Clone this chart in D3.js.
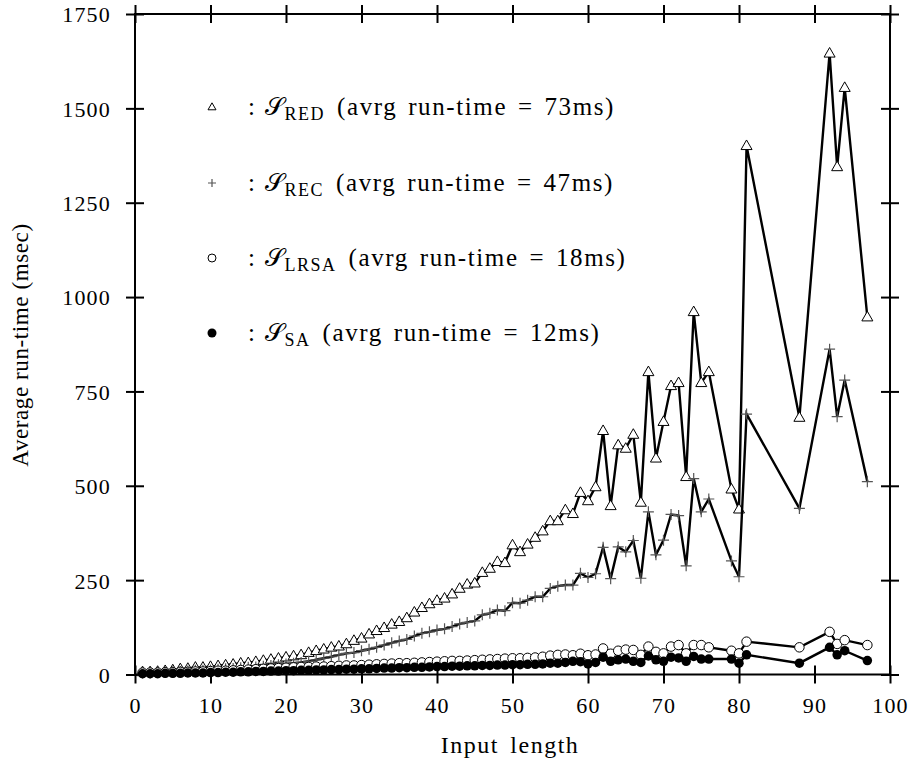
<!DOCTYPE html>
<html><head><meta charset="utf-8">
<script src="https://cdn.jsdelivr.net/npm/d3@7"></script>
<style>body{margin:0;background:#fff}svg{display:block}text{font-family:"Liberation Serif",serif;fill:#000}</style>
</head><body>
<script>
const inputLength = [1,2,3,4,5,6,7,8,9,10,11,12,13,14,15,16,17,18,19,20,21,22,23,24,25,26,27,28,29,30,31,32,33,34,35,36,37,38,39,40,41,42,43,44,45,46,47,48,49,50,51,52,53,54,55,56,57,58,59,60,61,62,63,64,65,66,67,68,69,70,71,72,73,74,75,76,79,80,81,88,92,93,94,97];
const sRED = [7,7,8,10,12,15,16,19,19,21,23,25,27,30,31,34,37,40,43,46,49,52,58,63,67,72,75,81,90,96,107,116,124,133,140,150,165,177,187,196,202,213,228,239,242,270,281,299,296,343,325,345,363,380,407,407,436,426,482,460,497,646,447,608,599,636,456,802,573,670,765,773,524,961,773,802,491,438,1401,681,1646,1345,1555,947];
const sREC = [4,4,5,6,7,8,9,11,11,12,14,15,16,18,19,20,22,24,26,28,30,32,35,39,43,47,52,56,58,63,67,72,78,84,89,93,102,109,113,118,121,127,134,138,142,158,162,171,169,190,189,197,206,206,228,234,237,237,268,257,267,337,254,338,325,355,255,431,317,356,424,421,288,519,431,465,301,259,690,440,862,683,780,511];
const sLRSA = [5,5,5,6,6,7,7,8,8,9,10,10,11,12,13,14,15,16,17,18,19,20,20,21,21,22,23,24,24,25,26,27,28,29,30,30,31,32,33,34,35,36,36,37,38,39,40,41,42,43,43,44,45,47,50,52,53,51,55,51,53,69,55,63,66,65,52,74,60,56,74,78,56,78,78,72,63,56,87,72,113,81,91,78];
const sSA = [2,2,2,3,3,3,4,4,4,5,5,6,6,7,7,8,8,9,9,10,10,11,11,12,12,13,13,14,14,15,15,16,17,17,18,18,19,19,20,21,21,22,22,23,23,24,24,25,25,26,26,27,27,28,30,30,32,35,34,28,32,46,35,39,41,35,32,49,39,35,46,44,35,48,41,41,41,30,52,30,72,52,63,37];
const xTicks = [0,10,20,30,40,50,60,70,80,90,100];
const yTicks = [0,250,500,750,1000,1250,1500,1750];
const seriesNames = ["RED","REC","LRSA","SA"];
const seriesAvg = ["73ms","47ms","18ms","12ms"];
const seriesMarkers = ["triangle","plus","circle","dot"];

const W = 909, H = 763;
const L = 135, R = 890, T = 14, B = 674.5;
const svg = d3.select("body").append("svg").attr("width", W).attr("height", H);
const x = d3.scaleLinear().domain([0,100]).range([L,R]);
const y = d3.scaleLinear().domain([0,1750]).range([B,T]);

svg.append("rect").attr("x",L).attr("y",T).attr("width",R-L).attr("height",B-T)
  .attr("fill","none").attr("stroke","#000").attr("stroke-width",2);

function styleAxis(g){ g.select(".domain").remove(); g.selectAll("line").attr("stroke","#000").attr("stroke-width",2);
  g.selectAll("text").attr("font-size",22).attr("font-family","Liberation Serif").attr("letter-spacing",1.2); }
const tk = 9;
svg.append("g").attr("transform",`translate(0,${B})`)
  .call(d3.axisBottom(x).tickValues(xTicks).tickSize(tk).tickFormat(d3.format("d")))
  .call(g=>{styleAxis(g); g.selectAll(".tick line").attr("y1",-tk).attr("y2",tk); g.selectAll("text").attr("y",31).attr("dy","0.36em");});
svg.append("g").attr("transform",`translate(0,${T})`)
  .call(d3.axisTop(x).tickValues(xTicks).tickSize(tk).tickFormat(""))
  .call(g=>{styleAxis(g); g.selectAll(".tick line").attr("y1",-tk).attr("y2",tk);});
svg.append("g").attr("transform",`translate(${L},0)`)
  .call(d3.axisLeft(y).tickValues(yTicks).tickSize(tk).tickFormat(d3.format("d")))
  .call(g=>{styleAxis(g); g.selectAll(".tick line").attr("x1",-tk).attr("x2",tk); g.selectAll("text").attr("x",-24).attr("dy","0.36em");});
svg.append("g").attr("transform",`translate(${R},0)`)
  .call(d3.axisRight(y).tickValues(yTicks).tickSize(tk).tickFormat(""))
  .call(g=>{styleAxis(g); g.selectAll(".tick line").attr("x1",-tk).attr("x2",tk);});

svg.append("text").attr("x",510).attr("y",753).attr("text-anchor","middle").attr("font-size",24)
  .attr("letter-spacing",1.5).attr("word-spacing",4).text("Input length");
svg.append("text").attr("transform",`translate(28,345) rotate(-90)`).attr("text-anchor","middle").attr("font-size",23)
  .attr("letter-spacing",0.6).text("Average run-time (msec)");

const allSeries = [sRED,sREC,sLRSA,sSA];
const line = d3.line().x(d=>x(d[0])).y(d=>y(d[1]));
const plotG = svg.append("g");

function drawMarker(g, type, cx, cy, s){
  if(type==="triangle"){
    const h = s*0.87;
    g.append("path").attr("d",`M${cx},${cy-h*0.6}L${cx+s/2},${cy+h*0.4}L${cx-s/2},${cy+h*0.4}Z`)
      .attr("fill","#fff").attr("stroke","#000").attr("stroke-width",1);
  } else if(type==="plus"){
    g.append("path").attr("d",`M${cx-s/2},${cy}H${cx+s/2}M${cx},${cy-s/2}V${cy+s/2}`)
      .attr("stroke","#555").attr("stroke-width",1.2).attr("fill","none");
  } else if(type==="circle"){
    g.append("circle").attr("cx",cx).attr("cy",cy).attr("r",s/2).attr("fill","#fff").attr("stroke","#000").attr("stroke-width",1);
  } else {
    g.append("circle").attr("cx",cx).attr("cy",cy).attr("r",s/2).attr("fill","#000");
  }
}

allSeries.forEach((vals,i)=>{
  const pts = inputLength.map((n,j)=>[n,vals[j]]);
  plotG.append("path").datum(pts).attr("d",line).attr("fill","none").attr("stroke","#000").attr("stroke-width",2.4).attr("stroke-linejoin","miter");
  const mg = plotG.append("g");
  pts.forEach(p=>drawMarker(mg, seriesMarkers[i], x(p[0]), y(p[1]), seriesMarkers[i]==="plus"?11:(seriesMarkers[i]==="triangle"?11:9.5)));
});

const legY = [107,183,258,333];
seriesNames.forEach((nm,i)=>{
  const g = svg.append("g");
  drawMarker(g, seriesMarkers[i], 212, legY[i], seriesMarkers[i]==="dot"?9:8);
  const t = g.append("text").attr("x",248).attr("y",legY[i]+8).attr("font-size",25).attr("letter-spacing",1.6);
  t.append("tspan").text(":");
  t.append("tspan").attr("font-family","DejaVu Serif").attr("dx",8).attr("letter-spacing",0).text("\uD835\uDCAE");
  t.append("tspan").attr("font-size",18).attr("dy",5).attr("dx",1).attr("letter-spacing",1.5).text(nm);
  t.append("tspan").attr("dy",-5).attr("dx",12).attr("word-spacing",3).text(`(avrg run-time = ${seriesAvg[i]})`);
});
</script>
</body></html>
